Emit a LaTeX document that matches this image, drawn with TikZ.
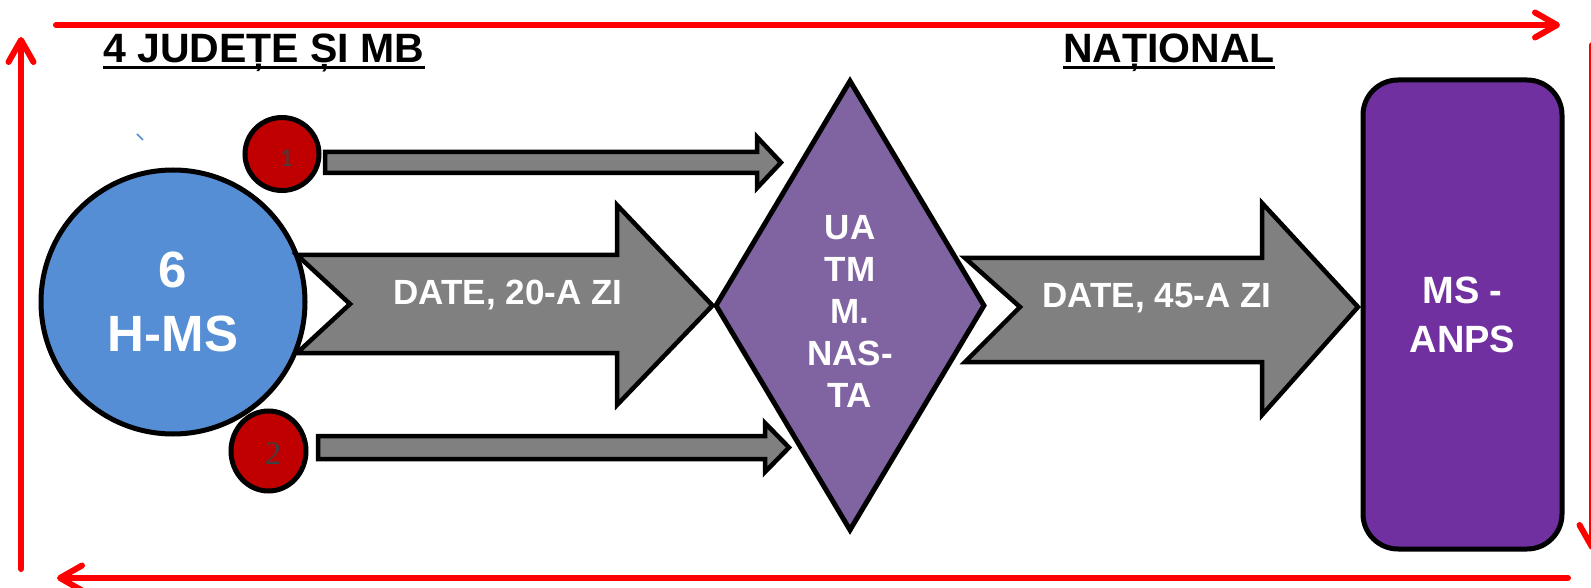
\documentclass[tikz,border=0pt]{standalone}
\usepackage{fontspec}
\setmainfont{Liberation Sans}
\newfontfamily\numserif{Liberation Serif}
\newfontfamily\numsans{Carlito}
\usetikzlibrary{shapes.geometric,arrows.meta}
\definecolor{hmsblue}{HTML}{558ED5}
\definecolor{dotred}{HTML}{C00000}
\definecolor{arrowgray}{HTML}{808080}
\definecolor{uatmviolet}{HTML}{8064A2}
\definecolor{anpspurple}{HTML}{7030A0}
\definecolor{framered}{HTML}{FF0000}
\definecolor{numgray}{HTML}{404040}

\begin{document}
\begin{tikzpicture}[x=1pt,y=-1pt,
  blockarrow/.style={draw=black,line width=4.5pt,fill=arrowgray},
  redline/.style={draw=framered,line width=6pt,line cap=round,-{Straight Barb[length=22pt,width=25pt,round]}},
  dot/.style={ellipse,draw=black,line width=5pt,fill=dotred,inner sep=0pt},
  title/.style={anchor=base west,inner sep=0pt,font=\bfseries\fontsize{41}{48}\selectfont}]
\useasboundingbox (0,0) rectangle (1591,588);
\coordinate (tl) at (56,25);
\coordinate (tr) at (1560,25);
\coordinate (rt) at (1592,45);
\coordinate (rb) at (1592,550);
\coordinate (br) at (1568,578);
\coordinate (bl) at (57,578);
\coordinate (lb) at (21,569);
\coordinate (lt) at (21,37);
\draw[redline] (tl) -- (tr);
\draw[redline] (rt) -- (rb);
\draw[redline] (br) -- (bl);
\draw[redline] (lb) -- (lt);
\node[title] (tleft) at (103,63) {4 JUDEȚE ȘI MB};
\draw[line width=3pt] ([yshift=-5pt]tleft.base west) -- ([yshift=-5pt]tleft.base east);
\node[title] (tright) at (1063,63) {NAȚIONAL};
\draw[line width=3pt] ([yshift=-5pt]tright.base west) -- ([yshift=-5pt]tright.base east);
\draw[hmsblue,line width=1.5pt] (137,134) -- (143,140);
\node[circle,draw=black,line width=5pt,fill=hmsblue,minimum size=264pt,inner sep=0pt,text=white,align=center,font=\bfseries\fontsize{51}{64}\selectfont] (hms) at (173,302) {6\\H-MS};
\node[dot,minimum width=74pt,minimum height=73pt] (c1) at (282,154) {};
\node[text=numgray,font=\numsans\fontsize{26}{30}\selectfont] (n1) at (286.5,158.5) {1};
\node[dot,minimum width=75pt,minimum height=80pt] (c2) at (268.5,451) {};
\node[text=numgray,font=\numserif\fontsize{33}{40}\selectfont] (n2) at (273,454) {2};
\node[diamond,aspect=0.6,draw=black,line width=5pt,fill=uatmviolet,minimum width=270pt,minimum height=451pt,inner sep=0pt] (uatm) at (850,305.5) {};
\node[text=white,align=center,font=\bfseries\fontsize{35}{42}\selectfont] (uatmlbl) at ([yshift=-6pt]uatm.center) {UA\\TM\\M.\\NAS-\\TA};
\node[rectangle,rounded corners=35pt,draw=black,line width=5pt,fill=anpspurple,minimum width=199pt,minimum height=469pt,inner sep=0pt,text=white,align=center,font=\bfseries\fontsize{38}{49}\selectfont] (anps) at (1462.5,314.5) {MS -\\ANPS};
\draw[blockarrow] (325,152) -- (757,152) -- (757,137) -- (781,162.5) -- (757,188) -- (757,173) -- (325,173) -- cycle;
\draw[blockarrow] (318,436) -- (765,436) -- (765,423) -- (789,447.5) -- (765,472) -- (765,459) -- (318,459) -- cycle;
\draw[blockarrow] (297,255) -- (617,255) -- (617,205) -- (uatm.west) -- (617,405) -- (617,353) -- (297,353) -- (350,304) -- cycle;
\draw[blockarrow] (965,258) -- (1262,258) -- (1262,203) -- (1358,307) -- (1262,415) -- (1262,362) -- (965,362) -- (1020,307) -- cycle;
\node[anchor=base,text=white,font=\bfseries\fontsize{35}{42}\selectfont] (d20) at (508,305) {DATE, 20-A ZI};
\node[anchor=base,text=white,font=\bfseries\fontsize{35}{42}\selectfont] (d45) at (1157,308) {DATE, 45-A ZI};
\end{tikzpicture}
\end{document}
